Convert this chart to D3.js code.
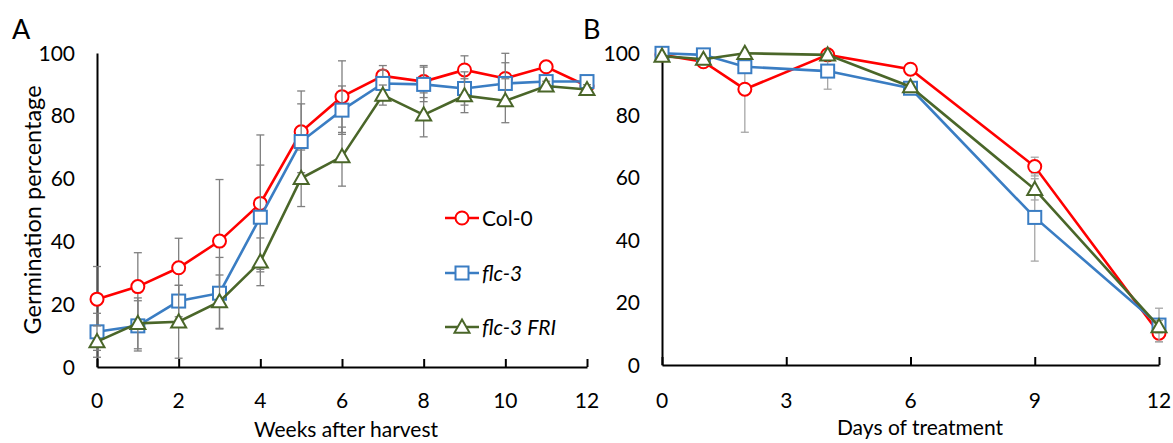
<!DOCTYPE html>
<html><head><meta charset="utf-8">
<script src="https://cdn.jsdelivr.net/npm/d3@7"></script>
<style>
html,body{margin:0;padding:0;background:#fff;}
svg text{font-family:Lato,"Open Sans",sans-serif;fill:#000;}
</style></head>
<body><svg id="c" width="1173" height="443"></svg>
<script>
// ---- Data ----
const seriesNames = ["Col-0", "flc-3", "flc-3 FRI"];
const weeks = [0,1,2,3,4,5,6,7,8,9,10,11,12];
const col0A = [21.6, 25.6, 31.6, 40.1, 52.1, 74.9, 86.1, 92.7, 90.9, 94.6, 91.9, 95.6, 89.5];
const flc3A = [11.2, 13.1, 21.0, 23.5, 47.7, 71.8, 81.8, 90.3, 90.0, 88.7, 90.3, 90.9, 90.9];
const friA  = [8.1, 13.9, 14.4, 20.8, 33.5, 60.1, 67.0, 86.6, 80.3, 86.4, 84.8, 89.5, 88.4];
const col0AErr = [10.4, 10.8, 9.4, 19.6, 21.8, 13.0, 11.4, 3.3, 5.1, 4.5, 8.0, 1.5, 1.5];
const flc3AErr = [5.9, 8.0, 5.0, 11.4, 16.6, 12.0, 7.7, 4.3, 5.5, 5.3, 6.6, 1.5, 1.5];
const friAErr  = [5.0, 8.1, 11.6, 8.5, 7.6, 9.0, 9.4, 3.2, 7.0, 5.4, 7.0, 1.5, 1.5];

const days = [0,1,2,4,6,9,12];
const col0B = [99.4, 97.2, 88.4, 99.4, 94.8, 63.6, 10.2];
const flc3B = [99.9, 99.4, 95.6, 94.2, 88.7, 47.3, 12.8];
const friB  = [99.0, 98.0, 99.9, 99.4, 89.2, 56.3, 12.3];
const col0BErr = [0.5, 1.0, 13.8, 0.5, 1.0, 3.0, 2.7];
const flc3BErr = [0.3, 0.5, 1.5, 5.8, 1.0, 14.0, 5.4];
const friBErr  = [0.5, 0.5, 0.3, 0.3, 1.0, 3.4, 2.0];

const yTicks = [0,20,40,60,80,100];
const xTicksA = [0,2,4,6,8,10,12];
const xTicksB = [0,3,6,9,12];

// ---- Styles ----
const colors = ["#ff0000", "#3a7dc3", "#4a6629"];
const shapes = ["circle", "square", "triangle"];
const svg = d3.select("#c");
const FS = 21;

function marker(g, shape, color, x, y) {
  if (shape === "circle") {
    g.append("circle").attr("cx", x).attr("cy", y).attr("r", 6.5)
      .attr("fill", "#fff").attr("stroke", color).attr("stroke-width", 2);
  } else if (shape === "square") {
    g.append("rect").attr("x", x-6.5).attr("y", y-6.5).attr("width", 13).attr("height", 13)
      .attr("fill", "#fff").attr("stroke", color).attr("stroke-width", 2);
  } else {
    const s = 7.5;
    g.append("path").attr("d", `M${x},${y-s}L${x+s},${y+s*0.75}L${x-s},${y+s*0.75}Z`)
      .attr("fill", "#fff").attr("stroke", color).attr("stroke-width", 2);
  }
}

function panel(cfg) {
  const x = d3.scaleLinear().domain([0,12]).range([cfg.x0, cfg.x1]);
  const y = d3.scaleLinear().domain([0,100]).range([cfg.y0, cfg.y1]);
  const g = svg.append("g");

  const xAxis = d3.axisBottom(x).tickValues(cfg.xTicks).tickSize(-8).tickSizeOuter(0).tickFormat("");
  const ax = g.append("g").attr("transform", `translate(0,${cfg.y0})`).call(xAxis);
  ax.select(".domain").attr("stroke", "#000").attr("stroke-width", 2);
  ax.selectAll(".tick line").attr("stroke", "#000").attr("stroke-width", 2);
  const yAxis = d3.axisLeft(y).tickValues(yTicks).tickSize(0).tickFormat("");
  const ay = g.append("g").attr("transform", `translate(${cfg.x0},0)`).call(yAxis);
  ay.select(".domain").attr("stroke", "#000").attr("stroke-width", 2);

  g.selectAll(".yl").data(yTicks).enter().append("text")
    .attr("x", cfg.ylabX).attr("y", d => y(d)).attr("dy", "0.36em")
    .attr("text-anchor", "end").attr("font-size", FS).text(d => d);
  g.selectAll(".xl").data(cfg.xTicks).enter().append("text")
    .attr("x", d => x(d)).attr("y", 400).attr("dy", "0.36em")
    .attr("text-anchor", "middle").attr("font-size", FS).text(d => d);

  cfg.series.forEach((s, i) => {
    const sg = g.append("g");
    const pts = cfg.xs.map((xv, j) => ({x: xv, v: s.v[j], e: s.e[j]}));
    pts.forEach(p => {
      const lo = Math.max(0, p.v - p.e), hi = Math.min(100, p.v + p.e);
      sg.append("line").attr("x1", x(p.x)).attr("x2", x(p.x)).attr("y1", y(lo)).attr("y2", y(hi))
        .attr("stroke", cfg.errColor).attr("stroke-width", 1.3);
      [p.v - p.e, p.v + p.e].forEach(c => {
        if (c >= 0 && c <= 100) sg.append("line").attr("x1", x(p.x)-4).attr("x2", x(p.x)+4)
          .attr("y1", y(c)).attr("y2", y(c)).attr("stroke", cfg.errColor).attr("stroke-width", 1.3);
      });
    });
    sg.append("path").datum(pts)
      .attr("d", d3.line().x(p => x(p.x)).y(p => y(p.v)))
      .attr("fill", "none").attr("stroke", colors[i]).attr("stroke-width", 2.6);
    pts.forEach(p => marker(sg, shapes[i], colors[i], x(p.x), y(p.v)));
  });

  g.append("text").attr("x", cfg.titleX).attr("y", cfg.titleY)
    .attr("text-anchor", "middle").attr("font-size", 21).text(cfg.title);
  g.append("text").attr("x", cfg.letterX).attr("y", 39).attr("font-size", 27).text(cfg.letter);
  return {x, y};
}

panel({x0: 97, x1: 587, y0: 367, y1: 53, ylabX: 75, xTicks: xTicksA, xs: weeks,
  series: [{v: col0A, e: col0AErr}, {v: flc3A, e: flc3AErr}, {v: friA, e: friAErr}],
  errColor: "#7f7f7f", title: "Weeks after harvest", titleX: 346, titleY: 437, letter: "A", letterX: 12});
panel({x0: 662, x1: 1159, y0: 365, y1: 53, ylabX: 640, xTicks: xTicksB, xs: days,
  series: [{v: col0B, e: col0BErr}, {v: flc3B, e: flc3BErr}, {v: friB, e: friBErr}],
  errColor: "#a6a6a6", title: "Days of treatment", titleX: 920, titleY: 435, letter: "B", letterX: 583});

svg.append("text").attr("transform", "translate(41,210) rotate(-90)")
  .attr("text-anchor", "middle").attr("font-size", 23.5).text("Germination percentage");

const legY = [218, 273, 327];
seriesNames.forEach((n, i) => {
  const lg = svg.append("g");
  lg.append("line").attr("x1", 445).attr("x2", 479).attr("y1", legY[i]).attr("y2", legY[i])
    .attr("stroke", colors[i]).attr("stroke-width", 2.6);
  marker(lg, shapes[i], colors[i], 462, legY[i]);
  lg.append("text").attr("x", 482).attr("y", legY[i]).attr("dy", "0.36em")
    .attr("font-size", FS).attr("font-style", i === 0 ? "normal" : "italic").text(n);
});
</script></body></html>
